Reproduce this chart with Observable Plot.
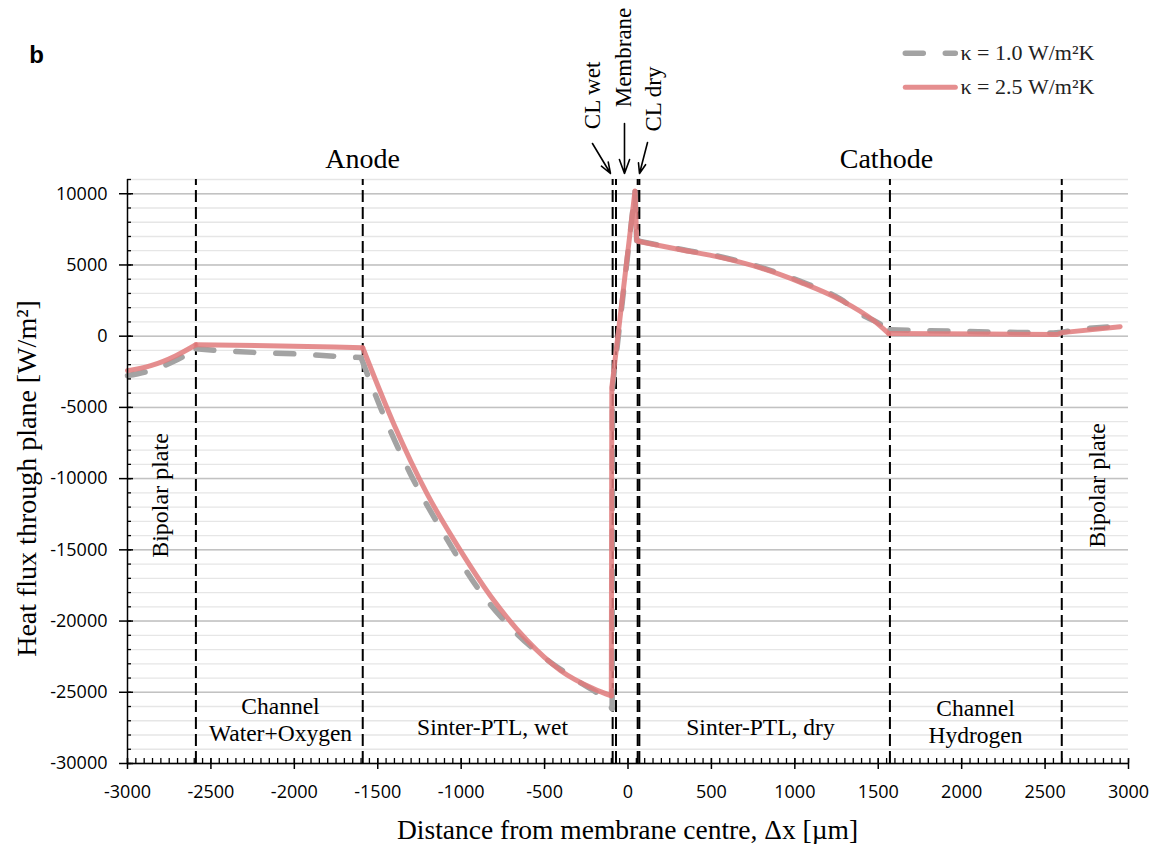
<!DOCTYPE html>
<html><head><meta charset="utf-8">
<script src="https://cdn.jsdelivr.net/npm/d3@7"></script>
<script src="https://cdn.jsdelivr.net/npm/@observablehq/plot@0.6"></script>
<style>body{margin:0;background:#fff}</style>
</head><body><div id="chart"></div>
<script>
// ---- data ----
const seriesNames = ["κ = 1.0 W/m²K", "κ = 2.5 W/m²K"];
const k10X = [-3000,-2860,-2710,-2590,-2443,-2203,-1980,-1740,-1600,-1484,-1304,-1104,-904,-704,-505,-305,-125,-95,-93,42,52,65,315,554,794,1034,1274,1411,1473,1570,2100,2550,2603,2714,2950];
const k10Y = [-2770,-2400,-1700,-880,-1020,-1160,-1250,-1420,-1500,-5000,-9670,-13880,-17630,-20440,-22540,-24180,-25700,-26150,-3600,10200,6700,6680,6100,5580,4850,3850,2600,1440,1100,450,310,220,280,500,720];
const k25X = [-3000,-2860,-2710,-2590,-2160,-1764,-1590,-1404,-1204,-1004,-804,-604,-405,-205,-100,-97,42,52,65,315,554,794,1034,1274,1473,1563,2133,2573,2603,2950];
const k25Y = [-2420,-2070,-1370,-600,-670,-760,-810,-6160,-11070,-15050,-18560,-21370,-23470,-24760,-25250,-3600,10200,6700,6650,6070,5530,4790,3780,2540,1090,180,150,120,250,670];
// smooth (curved) stretches of each series, between layer interfaces
const k10Smooth = [[-3000,-2590],[-1600,-95],[65,1570]];
const k10Linear = [[-2590,-1600],[-95,65],[1570,2950]];
const k25Smooth = [[-3000,-2590],[-1590,-100],[65,1563]];
const k25Linear = [[-2590,-1590],[-100,65],[1563,2950]];
const layerEdges = [-2590,-1590,-92,-72,58,68,1570,2600];
const xTicks = d3.range(-3000, 3001, 500);
const xMinorTicks = d3.range(-3000, 3001, 50);
const yTicks = d3.range(-30000, 10001, 5000);
const yMinorTicks = d3.range(-30000, 11001, 1000);
const regionLabels = [
  {x:-2083, y:-26000, t:"Channel"}, {x:-2083, y:-27900, t:"Water+Oxygen"},
  {x:-812, y:-27470, t:"Sinter-PTL, wet"}, {x:794, y:-27470, t:"Sinter-PTL, dry"},
  {x:2083, y:-26140, t:"Channel"}, {x:2083, y:-28030, t:"Hydrogen"}
];
const sideLabels = [{x:-1591, y:12470, t:"Anode"}, {x:1549, y:12470, t:"Cathode"}];
const vertLabels = [{x:-2802, y:-11185, t:"Bipolar plate"}, {x:2814, y:-10480, t:"Bipolar plate"}];
const layerNames = [{x:-213, y:16900, t:"CL wet"}, {x:-24, y:19565, t:"Membrane"}, {x:153, y:16650, t:"CL dry"}];
const pointers = [
  {x1:-213, y1:13527, x2:-105, y2:11421},
  {x1:-21, y1:14931, x2:-21, y2:11421},
  {x1:117, y1:13598, x2:69, y2:11421}
];
const legendY = [19867, 17480];

function pieces(xs, ys, ranges) {
  const out = [];
  ranges.forEach(([a,b], s) => xs.forEach((x,i) => { if (x >= a && x <= b) out.push({x, y:ys[i], s}); }));
  return out;
}
const serif = "Liberation Serif";
const gray = "#a3a3a3", red = "#e07a7b";
const grayStyle = {x:"x", y:"y", z:"s", stroke:gray, strokeWidth:5.5, strokeDasharray:"18,22", strokeLinecap:"round", strokeLinejoin:"round"};
const redStyle = {x:"x", y:"y", z:"s", stroke:red, strokeWidth:5, strokeLinecap:"round", strokeLinejoin:"round"};

const plot = Plot.plot({
  width:1153, height:844,
  marginLeft:127, marginRight:25, marginTop:179, marginBottom:81,
  style:{fontFamily:"Open Sans", fontSize:"18px", background:"white", color:"#000", overflow:"visible"},
  x:{domain:[-3000,3000], axis:null},
  y:{domain:[-30000,11000], axis:null},
  marks:[
    Plot.ruleY(yMinorTicks, {x1:-3000, x2:3000, stroke:"#e6e6e6", strokeWidth:1.3}),
    Plot.ruleY(yTicks, {x1:-3000, x2:3000, stroke:"#c2c2c2", strokeWidth:1.5}),
    Plot.ruleX(layerEdges, {y1:-30000, y2:11000, stroke:"#000", strokeWidth:2, strokeDasharray:"12,5"}),
    Plot.line(pieces(k10X, k10Y, k10Smooth), {...grayStyle, curve:"monotone-x"}),
    Plot.line(pieces(k10X, k10Y, k10Linear), {...grayStyle, curve:"linear"}),
    Plot.line(pieces(k25X, k25Y, k25Smooth), {...redStyle, curve:"monotone-x"}),
    Plot.line(pieces(k25X, k25Y, k25Linear), {...redStyle, curve:"linear"}),
    // axes lines
    Plot.ruleX([-3000], {y1:-30000, y2:11000, stroke:"#000", strokeWidth:1.5}),
    Plot.ruleY([-30000], {x1:-3000, x2:3000, stroke:"#000", strokeWidth:1.5}),
    // y ticks
    Plot.ruleY(yMinorTicks, {x1:-3000, x2:-2976, stroke:"#000", strokeWidth:1.3}),
    Plot.ruleY(yTicks, {x1:-3048, x2:-2964, stroke:"#000", strokeWidth:1.5}),
    Plot.text(yTicks, {x:-3000, y:d=>d, text:d=>String(d), textAnchor:"end", dx:-20, fontSize:18}),
    // x ticks
    Plot.ruleX(xMinorTicks, {y1:-30000, y2:-29650, stroke:"#000", strokeWidth:1.3}),
    Plot.ruleX(xTicks, {y1:-30420, y2:-29650, stroke:"#000", strokeWidth:1.5}),
    Plot.text(xTicks, {x:d=>d, y:-30000, text:d=>String(d), dy:29, fontSize:18}),
    // axis titles
    Plot.text(["Distance from membrane centre, Δx [µm]"], {x:-3, y:-34700, text:d=>d, fontFamily:serif, fontSize:27.5}),
    Plot.text(["Heat flux through plane [W/m²]"], {x:-3600, y:-9990, text:d=>d, rotate:-90, fontFamily:serif, fontSize:28}),
    // annotations
    Plot.text(regionLabels, {x:"x", y:"y", text:"t", fontFamily:serif, fontSize:23.5}),
    Plot.text(sideLabels, {x:"x", y:"y", text:"t", fontFamily:serif, fontSize:28}),
    Plot.text(vertLabels, {x:"x", y:"y", text:"t", rotate:-90, fontFamily:serif, fontSize:24}),
    Plot.text(layerNames, {x:"x", y:"y", text:"t", rotate:-90, fontFamily:serif, fontSize:23}),
    Plot.arrow(pointers, {x1:"x1", y1:"y1", x2:"x2", y2:"y2", stroke:"#000", strokeWidth:1.6, headLength:14, headAngle:40}),
    Plot.text(["b"], {x:-3545, y:19700, text:d=>d, fontFamily:"Liberation Sans", fontWeight:"bold", fontSize:24}),
    // legend
    Plot.ruleY([legendY[0]], {x1:1665, x2:1965, stroke:gray, strokeWidth:5.5, strokeDasharray:"18,22", strokeLinecap:"round"}),
    Plot.ruleY([legendY[1]], {x1:1665, x2:1965, stroke:red, strokeWidth:5, strokeOpacity:0.85, strokeLinecap:"round"}),
    Plot.text(seriesNames, {x:1993, y:(d,i)=>legendY[i], text:d=>d, textAnchor:"start", fontFamily:serif, fontSize:22, fill:"#222"})
  ]
});
// translucent red drawn as one layer so segment joints do not darken
d3.select(plot).selectAll('g[aria-label="line"]')
  .filter(function() { return this.getAttribute("stroke") === red; })
  .attr("opacity", 0.85);
document.getElementById("chart").append(plot);
</script>
</body></html>
